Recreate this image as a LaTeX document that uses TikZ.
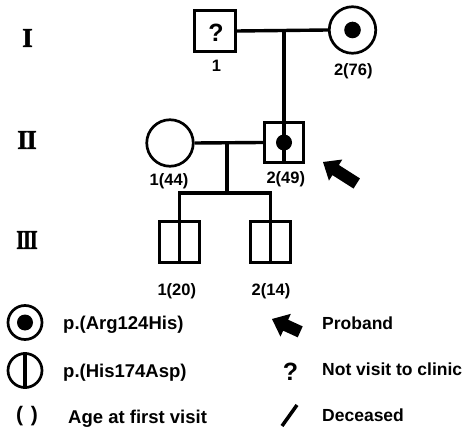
\documentclass[tikz,border=0pt]{standalone}
\usepackage{fontspec}
\setmainfont{Liberation Sans}
\newfontfamily\numeralfont[BoldFeatures={FakeBold=1.5}]{Liberation Serif}
\usepackage{graphicx}

\tikzset{
  person/.style={draw, line width=2.7pt, inner sep=0pt},
  male/.style={person, rectangle, minimum size=#1},
  female/.style={person, circle, minimum size=#1},
  tieline/.style={line width=3.4pt},
  carrier/.style={fill=black},
  lab/.style={inner sep=0pt, anchor=base, font=\fontsize{16.5}{18}\selectfont\bfseries},
  legl/.style={inner sep=0pt, anchor=base west, font=\fontsize{18.5}{20}\selectfont\bfseries},
  legr/.style={inner sep=0pt, anchor=base west, font=\fontsize{17.5}{20}\selectfont\bfseries},
  gen/.style={inner sep=0pt, font=\numeralfont\fontsize{27}{28}\selectfont\bfseries},
  qmark/.style={inner sep=0pt, font=\fontsize{25}{26}\selectfont\bfseries},
  pics/proband/.style={code={
    \fill (0,0) -- (15,12.5) -- (15,6) -- (#1,6) -- (#1,-6) -- (15,-6) -- (15,-12.5) -- cycle;
  }},
}

\begin{document}
\begin{tikzpicture}[x=1pt, y=-1pt]
  \useasboundingbox (0,0) rectangle (468,435);

  % generation numerals
  \node[gen] (gI)   at (27.5,38)  {I};
  \node[gen] (gII)  at (27,140)   {I\kern-1.3pt I};
  \node[gen] (gIII) at (27,240)   {\scalebox{0.75}[1]{I\kern-1.5pt I\kern-1.5pt I}};

  % generation I
  \node[male=41.5pt]   (i1) at (215,31)  {};
  \node[qmark] (q1) at (216,32.5) {?};
  \node[female=46.5pt] (i2) at (352.5,30) {};
  \fill[carrier] (i2.center) circle (8.3pt);
  \node[lab] (l-i1) at (216.5,72) {1};
  \node[lab] (l-i2) at (353.3,76) {2(76)};

  % generation II
  \node[female=46.5pt] (ii1) at (170,143) {};
  \node[male=39.5pt]   (ii2) at (284,142.5) {};
  \node[lab] (l-ii1) at (169,185.5) {1(44)};
  \node[lab] (l-ii2) at (285.8,183.5) {2(49)};

  % generation III
  \node[male=40.5pt] (iii1) at (179.5,242) {};
  \node[male=40.5pt] (iii2) at (270.5,242) {};
  \node[lab] (l-iii1) at (176.8,296) {1(20)};
  \node[lab] (l-iii2) at (271,296) {2(14)};

  % mating and descent lines
  \coordinate (m1) at (i1.east -| ii2.center);
  \draw[tieline] (i1.east) -- (i2.west);
  \draw[tieline] (m1) -- (ii2.south);
  \fill[carrier] (ii2.center) circle (8pt);

  \coordinate (m2) at (227,143);
  \coordinate (sib) at (227,193);
  \draw[tieline] (ii1.east) -- (ii2.west);
  \draw[tieline] (m2) -- (sib);
  \draw[tieline] (iii1.south) -- (iii1 |- sib) -- (iii2 |- sib) -- (iii2.south);

  % proband arrow
  \pic[rotate=-32.5] at (323,162) {proband=40};

  % legend
  \node[female=34pt] (k1) at (25,322.5) {};
  \fill[carrier] (k1.center) circle (8pt);
  \node[legl] (t1) at (63,329) {p.(Arg124His)};

  \node[female=34pt] (k2) at (25,370.5) {};
  \draw[tieline] (k2.north) -- (k2.south);
  \node[legl] (t2) at (63,377) {p.(His174Asp)};

  \node[inner sep=0pt, anchor=base, font=\fontsize{21}{22}\selectfont\bfseries] (k3) at (27,421) {(\kern8pt)};
  \node[legl] (t3) at (68,423) {Age at first visit};

  \pic[rotate=-24.5] at (272,319) {proband=31};
  \node[legr] (t4) at (322,329) {Proband};

  \node[qmark] (k5) at (290.5,372) {?};
  \node[legr] (t5) at (322,375) {Not visit to clinic};

  \coordinate (s1) at (282,426);
  \coordinate (s2) at (297,405);
  \draw[line width=3.5pt] (s1) -- (s2);
  \node[legr] (t6) at (322,421) {Deceased};
\end{tikzpicture}
\end{document}
